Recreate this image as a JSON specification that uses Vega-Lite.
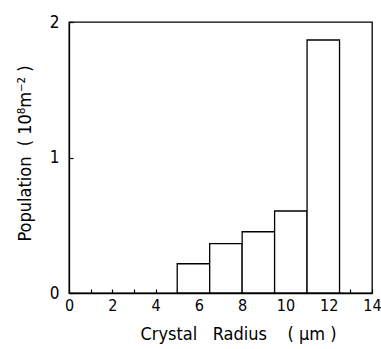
{
  "$schema": "https://vega.github.io/schema/vega-lite/v6.json",
  "autosize": "none",
  "width": 303,
  "height": 271,
  "padding": {"left": 69, "top": 22, "right": 9, "bottom": 56},
  "background": "white",
  "config": {
    "view": {"stroke": "black", "strokeWidth": 1.3},
    "font": "DejaVu Sans",
    "axis": {
      "domainColor": "black",
      "domainWidth": 1.3,
      "tickColor": "black",
      "tickWidth": 1.2,
      "grid": false,
      "labelColor": "black",
      "titleColor": "black",
      "labelFont": "DejaVu Sans Condensed",
      "titleFont": "DejaVu Sans Condensed",
      "labelFontSize": 16,
      "titleFontSize": 18,
      "titleFontWeight": "normal",
      "labelOverlap": false,
      "labelFlush": false
    }
  },
  "data": {
    "values": [
      {"r0": 5.0, "r1": 6.5, "pop": 0.216},
      {"r0": 6.5, "r1": 8.0, "pop": 0.364},
      {"r0": 8.0, "r1": 9.5, "pop": 0.452},
      {"r0": 9.5, "r1": 11.0, "pop": 0.605},
      {"r0": 11.0, "r1": 12.5, "pop": 1.867}
    ]
  },
  "mark": {"type": "bar", "fill": "white", "stroke": "black", "strokeWidth": 1.3},
  "encoding": {
    "x": {
      "field": "r0",
      "type": "quantitative",
      "scale": {"domain": [0, 14], "nice": false, "zero": false},
      "axis": {
        "values": [0,1,2,3,4,5,6,7,8,9,10,11,12,13,14],
        "labelExpr": "datum.value % 2 === 0 ? datum.label : ''",
        "tickSize": -4,
        "labelPadding": 8,
        "title": "Crystal\u00a0\u00a0\u00a0Radius\u00a0\u00a0\u00a0\u00a0(\u00a0μm\u00a0)",
        "titleX": 169,
        "titlePadding": 12
      }
    },
    "x2": {"field": "r1"},
    "y": {
      "field": "pop",
      "type": "quantitative",
      "scale": {"domain": [0, 2], "nice": false},
      "axis": {
        "tickCount": 2,
        "tickSize": -4,
        "format": "d",
        "labelPadding": 14,
        "labelFontSize": 17,
        "title": "Population\u00a0\u00a0(\u00a010⁸m⁻²\u00a0)",
        "titleY": 131,
        "titlePadding": 15
      }
    },
    "y2": {"datum": 0}
  }
}
